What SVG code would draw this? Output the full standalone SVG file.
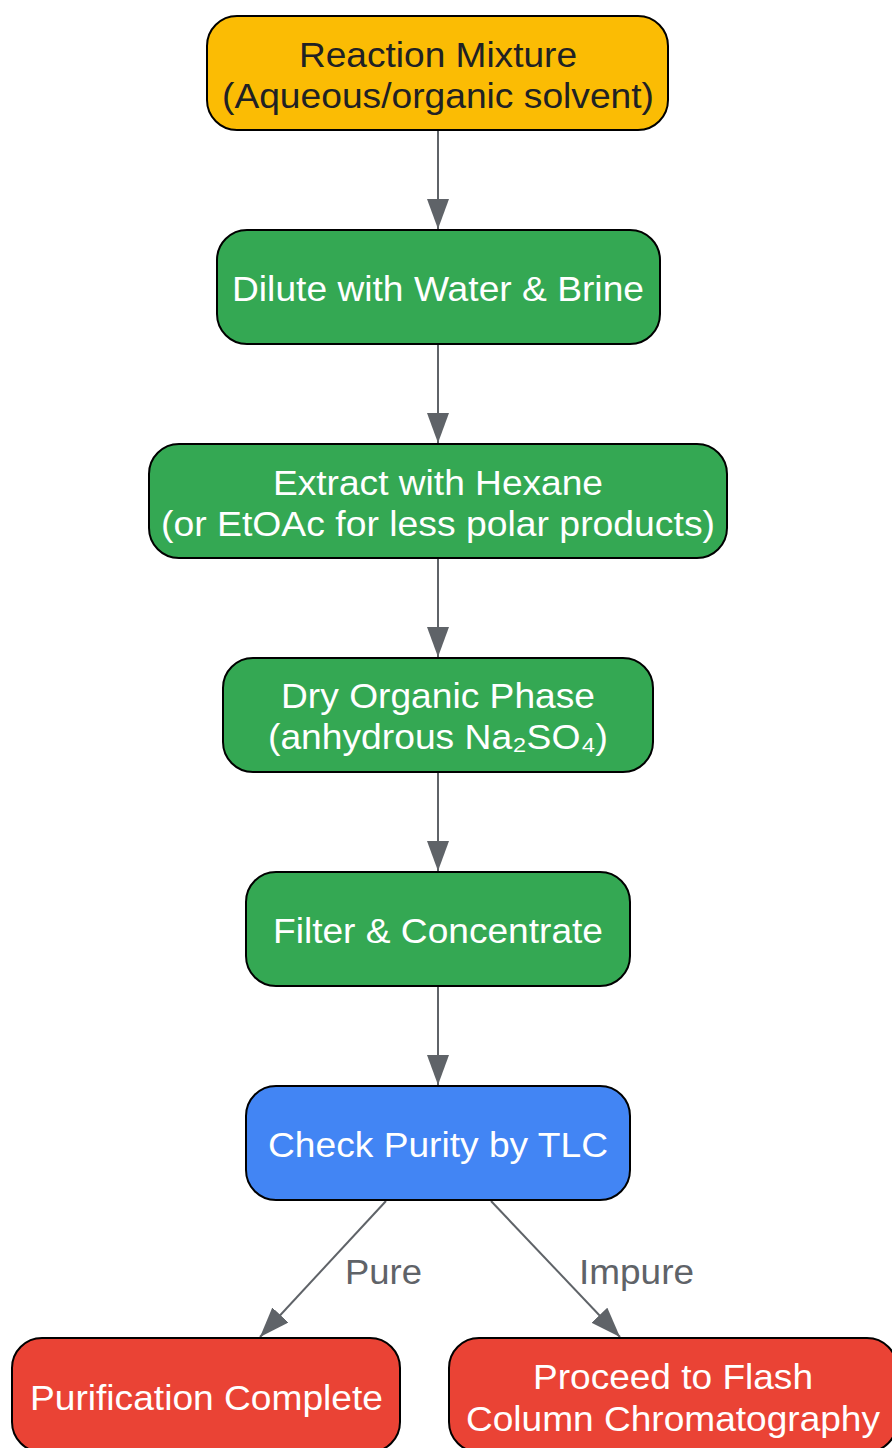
<svg xmlns="http://www.w3.org/2000/svg" width="892" height="1448" viewBox="0 0 892 1448">
<style>
.box{stroke:#000;stroke-width:2}
.y{fill:#FBBC04}.g{fill:#34A853}.b{fill:#4285F4}.r{fill:#EA4335}
text{font-family:"Liberation Sans",Arial,sans-serif;font-size:35px;text-anchor:middle}
.w{fill:#fff}.d{fill:#202124}
.lbl{fill:#5F6368}
.e{stroke:#5F6368;stroke-width:2;fill:none;marker-end:url(#ah)}
</style>
<defs>
<marker id="ah" viewBox="0 0 30 22" refX="30" refY="11" markerWidth="30" markerHeight="22" markerUnits="userSpaceOnUse" orient="auto">
<path d="M0,0 L30,11 L0,22 z" fill="#5F6368"/>
</marker>
</defs>
<rect width="892" height="1448" fill="#fff"/>
<g id="edges">
<line class="e" x1="438" y1="131" x2="438" y2="229"/>
<line class="e" x1="438" y1="345" x2="438" y2="443"/>
<line class="e" x1="438" y1="559" x2="438" y2="657"/>
<line class="e" x1="438" y1="773" x2="438" y2="871"/>
<line class="e" x1="438" y1="987" x2="438" y2="1085"/>
<line class="e" x1="386" y1="1201" x2="260" y2="1337"/>
<line class="e" x1="491" y1="1201" x2="620" y2="1337"/>
<text class="lbl" x="383.5" y="1284" textLength="77" lengthAdjust="spacingAndGlyphs">Pure</text>
<text class="lbl" x="636.5" y="1284" textLength="115" lengthAdjust="spacingAndGlyphs">Impure</text>
</g>
<g id="n1">
<rect class="box y" x="207" y="16" width="461" height="114" rx="30"/>
<text class="d" x="438" y="67" textLength="278" lengthAdjust="spacingAndGlyphs">Reaction Mixture</text>
<text class="d" x="438" y="108" textLength="432" lengthAdjust="spacingAndGlyphs">(Aqueous/organic solvent)</text>
</g>
<g id="n2">
<rect class="box g" x="217" y="230" width="443" height="114" rx="30"/>
<text class="w" x="438" y="301" textLength="412" lengthAdjust="spacingAndGlyphs">Dilute with Water &amp; Brine</text>
</g>
<g id="n3">
<rect class="box g" x="149" y="444" width="578" height="114" rx="30"/>
<text class="w" x="438" y="495" textLength="330" lengthAdjust="spacingAndGlyphs">Extract with Hexane</text>
<text class="w" x="438" y="536" textLength="554" lengthAdjust="spacingAndGlyphs">(or EtOAc for less polar products)</text>
</g>
<g id="n4">
<rect class="box g" x="223" y="658" width="430" height="114" rx="30"/>
<text class="w" x="438" y="708" textLength="314" lengthAdjust="spacingAndGlyphs">Dry Organic Phase</text>
<text class="w" x="438" y="749" textLength="340" lengthAdjust="spacingAndGlyphs">(anhydrous Na₂SO₄)</text>
</g>
<g id="n5">
<rect class="box g" x="246" y="872" width="384" height="114" rx="30"/>
<text class="w" x="438" y="943" textLength="330" lengthAdjust="spacingAndGlyphs">Filter &amp; Concentrate</text>
</g>
<g id="n6">
<rect class="box b" x="246" y="1086" width="384" height="114" rx="30"/>
<text class="w" x="438" y="1157" textLength="340" lengthAdjust="spacingAndGlyphs">Check Purity by TLC</text>
</g>
<g id="n7">
<rect class="box r" x="12" y="1338" width="388" height="114" rx="30"/>
<text class="w" x="206.5" y="1410" textLength="353" lengthAdjust="spacingAndGlyphs">Purification Complete</text>
</g>
<g id="n8">
<rect class="box r" x="449" y="1338" width="448" height="114" rx="30"/>
<text class="w" x="673" y="1389" textLength="280" lengthAdjust="spacingAndGlyphs">Proceed to Flash</text>
<text class="w" x="673" y="1431" textLength="414" lengthAdjust="spacingAndGlyphs">Column Chromatography</text>
</g>
</svg>
